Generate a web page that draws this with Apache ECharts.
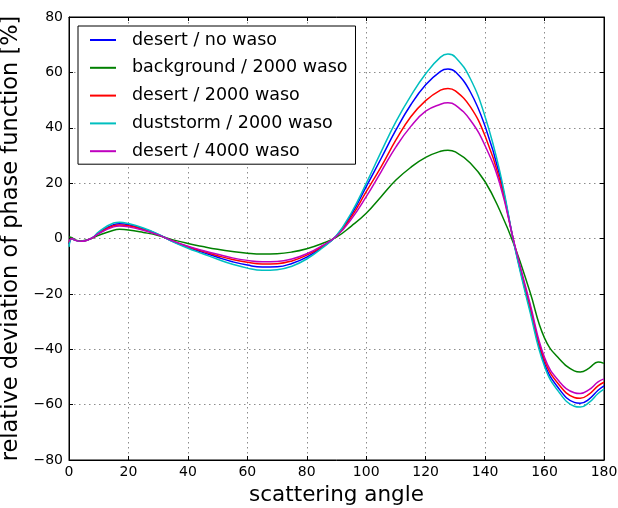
<!DOCTYPE html>
<html>
<head>
<meta charset="utf-8">
<script src="https://cdn.jsdelivr.net/npm/echarts@6/dist/echarts.min.js"></script>
<style>html,body{margin:0;padding:0;background:#fff;}#c{width:618px;height:508px;}</style>
</head>
<body>
<div id="c"></div>
<script>
const angles = [0,1,2,4,6,8,10,15,17,20,25,30,35,40,45,50,55,60,65,70,75,80,85,90,95,100,105,110,115,120,125,127.5,130,135,140,145,150,155,160,165,170,172,175,178,180];

const desertNoWaso = [-2,0,-0.6,-1,-0.6,0.3,2.1,5.0,5.3,5.0,3.5,1.5,-1.1,-3.2,-5,-6.8,-8.4,-9.6,-10.3,-10.2,-9.0,-6.7,-3.3,1.0,8.6,18.7,28.9,39.2,48.3,55.5,60.4,61.2,60.2,53,40.5,22.5,-3,-25,-45.2,-54.5,-59.2,-59.5,-58,-54.8,-53.2];
const background2000 = [0.5,0.3,-0.5,-0.9,-0.5,0.2,1.2,3.0,3.3,3.1,2.2,1.1,-0.5,-1.8,-2.9,-3.9,-4.7,-5.3,-5.6,-5.5,-4.9,-3.7,-1.9,0.5,4.5,9.1,15.1,21.1,25.7,29.3,31.5,31.9,31.3,27.3,20.5,10,-3,-19,-36,-43.5,-47.8,-48.2,-46.8,-44.6,-45.1];
const desert2000 = [-1.5,0,-0.6,-1,-0.6,0.3,2.0,4.6,4.9,4.6,3.2,1.4,-1,-3,-4.6,-6.2,-7.6,-8.6,-9.2,-9.1,-8.1,-6.0,-3.0,0.9,7.8,16.9,25.9,35.6,44,49.8,53.6,54.2,53.3,47.6,37,21,-2.8,-24,-44,-53,-57.4,-57.7,-56.2,-53.2,-51.9];
const duststorm2000 = [-3,0,-0.6,-1,-0.6,0.4,2.4,5.6,5.9,5.4,3.8,1.6,-1.2,-3.5,-5.5,-7.5,-9.3,-10.7,-11.5,-11.3,-10.0,-7.4,-3.6,1.1,9.3,19.9,31.3,42.2,51.5,59.5,65.5,66.6,65.5,57.8,44,24,-3.3,-26,-46.2,-55.7,-60.6,-60.9,-59.2,-56,-54.4];
const desert4000 = [-1,0,-0.6,-1,-0.6,0.3,1.8,4.2,4.5,4.2,3.0,1.3,-0.9,-2.8,-4.3,-5.7,-7.0,-7.9,-8.4,-8.3,-7.4,-5.5,-2.7,0.8,7.0,15.1,24.1,33.1,40.5,46,48.5,49,48.2,42.8,33.5,19.5,-2.5,-23,-43,-51.7,-55.7,-56,-54.6,-51.8,-50.7];

const seriesNames = ['desert / no waso','background / 2000 waso','desert / 2000 waso','duststorm / 2000 waso','desert / 4000 waso'];
const seriesValues = [desertNoWaso, background2000, desert2000, duststorm2000, desert4000];
const seriesColors = ['#0000ff','#008000','#ff0000','#00bfbf','#bf00bf'];

const xMin = 0, xMax = 180, xStep = 20;
const yMin = -80, yMax = 80, yStep = 20;

const FONT = 'DejaVu Sans';
const fmt = v => String(v).replace('-', '\u2212');

const chart = echarts.init(document.getElementById('c'), null, {renderer:'canvas'});
const gridLine = {show:true, lineStyle:{color:'#8c8c8c', type:[1.5,3.5], width:1}};
const tick = {show:true, inside:true, length:4, lineStyle:{color:'#000', width:1}};
const line = {show:true, onZero:false, lineStyle:{color:'#000', width:1}};

chart.setOption({
  animation:false,
  backgroundColor:'#fff',
  grid:{left:69, right:14, top:17, bottom:48, show:true, borderColor:'#000', borderWidth:1, backgroundColor:'transparent', containLabel:false, outerBoundsMode:'none'},
  legend:{
    orient:'vertical', left:78, top:26,
    backgroundColor:'#fff', borderColor:'#000', borderWidth:1, borderRadius:0,
    padding:[5,8,4,12], itemWidth:26, itemHeight:2, itemGap:9.8, icon:'rect',
    textStyle:{fontSize:17.5, fontFamily:FONT, color:'#000', lineHeight:17, padding:[0,0,0,11]},
    data:seriesNames
  },
  xAxis:[{
    type:'value', min:xMin, max:xMax, interval:xStep,
    name:'scattering angle', nameLocation:'middle', nameGap:24,
    nameTextStyle:{fontSize:21.5, fontFamily:FONT, color:'#000'},
    axisLine:line,
    axisTick:tick,
    axisLabel:{fontSize:14, fontFamily:FONT, color:'#000', margin:5, formatter:fmt},
    splitLine:gridLine
  },{
    type:'value', min:xMin, max:xMax, interval:xStep, position:'top',
    axisLine:line,
    axisTick:tick, axisLabel:{show:false}, splitLine:{show:false}
  }],
  yAxis:[{
    type:'value', min:yMin, max:yMax, interval:yStep,
    name:'relative deviation of phase function [%]', nameLocation:'middle', nameGap:35,
    nameTextStyle:{fontSize:22.5, fontFamily:FONT, color:'#000'},
    axisLine:line,
    axisTick:tick,
    axisLabel:{fontSize:14, fontFamily:FONT, color:'#000', margin:6, formatter:fmt},
    splitLine:gridLine
  },{
    type:'value', min:yMin, max:yMax, interval:yStep, position:'right',
    axisLine:line,
    axisTick:tick, axisLabel:{show:false}, splitLine:{show:false}
  }],
  series: seriesNames.map((n,i)=>({
    name:n, type:'line', xAxisIndex:0, yAxisIndex:0,
    data: angles.map((a,j)=>[a, seriesValues[i][j]]),
    showSymbol:false, symbol:'none', smooth:0.45,
    lineStyle:{color:seriesColors[i], width:1.5},
    itemStyle:{color:seriesColors[i]},
    z:2+i
  }))
});
</script>
</body>
</html>
